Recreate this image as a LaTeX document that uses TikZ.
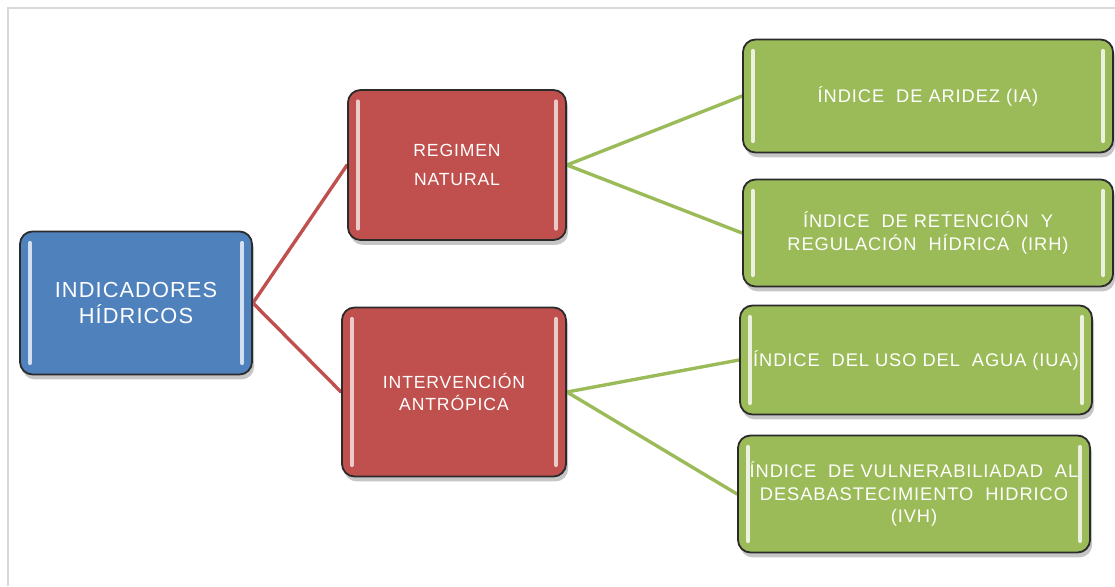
\documentclass[tikz,border=0pt]{standalone}
\usepackage{fontspec}
\setmainfont{Liberation Sans}[LetterSpace=5]
\usetikzlibrary{positioning, shadows, backgrounds}

\definecolor{azul}{HTML}{4F81BD}
\definecolor{rojo}{HTML}{C0504D}
\definecolor{verde}{HTML}{9BBB59}
\definecolor{borde}{HTML}{2B2B2B}

\tikzset{
  % white glints along the inner left and right edges
  gleam/.style={path picture={
    \draw[#1, line width=2.6pt, line cap=round]
      ([xshift=7pt,yshift=-8pt]path picture bounding box.north west) --
      ([xshift=7pt,yshift=8pt]path picture bounding box.south west);
    \draw[#1, line width=2.6pt, line cap=round]
      ([xshift=-7pt,yshift=-8pt]path picture bounding box.north east) --
      ([xshift=-7pt,yshift=8pt]path picture bounding box.south east);
  }},
  caja/.style={rectangle, rounded corners=9pt, draw=borde, line width=1.3pt,
    text=white, align=center, inner sep=2pt,
    drop shadow={shadow xshift=1.5pt, shadow yshift=-3.5pt, opacity=0.45}},
  raiz/.style={caja, fill=azul, gleam=azul!25!white, font=\fontsize{15.5}{18.5}\selectfont},
  rama/.style={caja, fill=rojo, gleam=rojo!30!white, font=\fontsize{12.5}{15}\selectfont},
  hoja/.style={caja, fill=verde, gleam=verde!20!white, font=\fontsize{13}{16.3}\selectfont},
  lazo/.style={line width=2.4pt, line cap=round},
}

\begin{document}
\begin{tikzpicture}[x=0.025cm, y=-0.025cm]
  \useasboundingbox (0,0) rectangle (1115,586);

  % page frame
  \draw[gray!30, line width=1.4pt] (8,586) -- (8,8) -- (1115,8);

  % main node
  \node[raiz, minimum width=5.8cm, minimum height=3.575cm] (indic) at (136,303)
    {INDICADORES\\HÍDRICOS};

  % branches
  \node[rama, minimum width=5.45cm, minimum height=3.75cm] (natural) at (457,165)
    {REGIMEN\\[5pt]NATURAL};
  \node[rama, minimum width=5.6cm, minimum height=4.225cm] (antrop) at (454,392)
    {INTERVENCIÓN\\ANTRÓPICA};

  % indices
  \node[hoja, minimum width=9.25cm, minimum height=2.825cm] (ia) at (928,96)
    {ÍNDICE~ DE ARIDEZ (IA)};
  \node[hoja, minimum width=9.25cm, minimum height=2.675cm] (irh) at (928,233)
    {ÍNDICE~ DE RETENCIÓN~ Y\\REGULACIÓN~ HÍDRICA~ (IRH)};
  \node[hoja, minimum width=8.8cm, minimum height=2.725cm] (iua) at (916,360)
    {ÍNDICE~ DEL USO DEL~ AGUA (IUA)};
  \node[hoja, minimum width=8.8cm, minimum height=2.925cm] (ivh) at (914,494)
    {ÍNDICE~ DE VULNERABILIADAD~ AL\\DESABASTECIMIENTO~ HIDRICO\\(IVH)};

  % connectors
  \begin{scope}[on background layer]
    \draw[lazo, rojo] (natural.west) -- (indic.east) -- (antrop.west);
    \draw[lazo, verde] (ia.west) -- (natural.east) -- (irh.west);
    \draw[lazo, verde] (iua.west) -- (antrop.east) -- (ivh.west);
  \end{scope}
\end{tikzpicture}
\end{document}
